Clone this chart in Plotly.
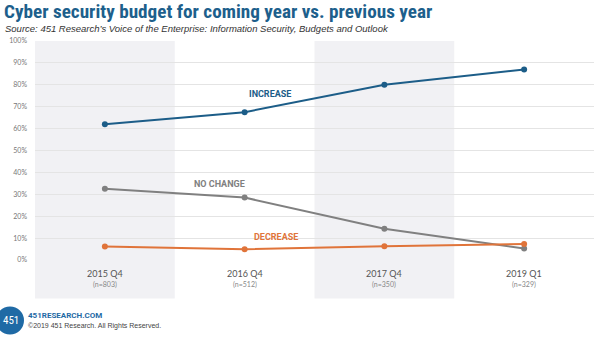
import plotly.graph_objects as go

categories = ["2015 Q4", "2016 Q4", "2017 Q4", "2019 Q1"]
sample_sizes = ["(n=803)", "(n=512)", "(n=350)", "(n=329)"]
increase = [62, 67.5, 80, 87]
no_change = [32.5, 28.5, 14.3, 5.2]
decrease = [6.2, 4.9, 6.3, 7.3]
y_ticks = [0, 10, 20, 30, 40, 50, 60, 70, 80, 90, 100]

W, H = 600, 340
L, R, T, B = 35, 594, 41, 259.6

def xp(px):
    return (px - L) / (R - L)

def yp(py):
    return (B - py) / (B - T)

BLUE = "#1c5d88"
GRAY = "#808080"
ORANGE = "#e0743a"

fig = go.Figure()
x_idx = list(range(len(categories)))
for name, vals, col in [("Increase", increase, BLUE), ("No change", no_change, GRAY), ("Decrease", decrease, ORANGE)]:
    fig.add_trace(go.Scatter(x=x_idx, y=vals, mode="lines+markers", name=name,
                             line=dict(color=col, width=2), marker=dict(color=col, size=6),
                             cliponaxis=False, hoverinfo="skip"))

shapes = []
for i in (0, 2):
    shapes.append(dict(type="rect", xref="x", yref="paper", x0=i - 0.5, x1=i + 0.5,
                       y0=yp(298), y1=1, fillcolor="#f1f1f4", line=dict(width=0), layer="below"))
# logo circle
shapes.append(dict(type="circle", xref="paper", yref="paper", x0=xp(-4), x1=xp(24), y0=yp(334), y1=yp(306),
                   fillcolor="#1f6aa5", line=dict(width=0)))

annotations = []
def ann(x, y, text, size, color, family="Roboto", xanchor="left", xref="paper", yref="paper",
        yanchor="middle"):
    annotations.append(dict(x=x, y=y, xref=xref, yref=yref, text=text, showarrow=False,
                            xanchor=xanchor, yanchor=yanchor, borderpad=0,
                            font=dict(size=size, color=color, family=family)))

ann(xp(3), yp(-0.5), "<b>Cyber security budget for coming year vs. previous year</b>", 19.2, "#1d5f8c",
    family="Roboto Condensed", yanchor="top")
ann(xp(4), yp(28.5), "<i>Source: 451 Research’s Voice of the Enterprise: Information Security, Budgets and Outlook</i>",
    9.5, "#333333", family="Liberation Sans")

for i, (c, n) in enumerate(zip(categories, sample_sizes)):
    ann(i, yp(273), c, 9, "#555555", family="Lato", xanchor="center", xref="x")
    ann(i, yp(284.5), n, 7, "#888888", family="Lato", xanchor="center", xref="x")

ann(xp(269.5), yp(94), "<b>INCREASE</b>", 9, BLUE, xanchor="center")
ann(xp(219.5), yp(184), "<b>NO CHANGE</b>", 9, GRAY, xanchor="center")
ann(xp(275.5), yp(237), "<b>DECREASE</b>", 9, ORANGE, xanchor="center")

ann(xp(11), yp(320), "451", 11, "white", family="Roboto Condensed", xanchor="center")
ann(xp(27), yp(315), "<b>451RESEARCH.COM</b>", 8, "#1f6aa5", family="Roboto")
ann(xp(27), yp(325), "©2019 451 Research. All Rights Reserved.", 7, "#444444", family="Liberation Sans")

fig.update_layout(
    width=W, height=H,
    margin=dict(l=L, r=W - R, t=T, b=H - B, pad=0),
    paper_bgcolor="white", plot_bgcolor="rgba(0,0,0,0)",
    showlegend=False,
    shapes=shapes, annotations=annotations,
    xaxis=dict(range=[-0.5, 3.5], showticklabels=False, showgrid=False, zeroline=False,
               ticks="", fixedrange=True),
    yaxis=dict(range=[0, 100], tickvals=y_ticks, ticktext=[f"{v}%" for v in y_ticks],
               showgrid=True, gridcolor="#e4e4e4", gridwidth=1, zeroline=False,
               tickfont=dict(size=7, color="#777777", family="Lato"), ticks="",
               ticklabelstandoff=7, fixedrange=True),
)

fig.write_html("out.html")
